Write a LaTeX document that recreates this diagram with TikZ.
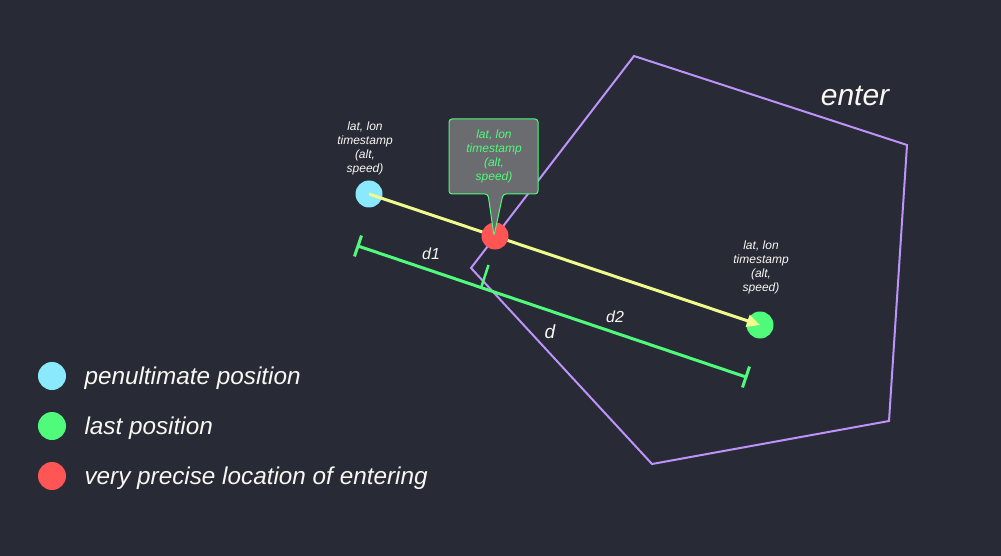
\documentclass[tikz,border=0pt]{standalone}
\usepackage{fontspec}
\setmainfont{Liberation Sans}
\usetikzlibrary{arrows.meta,calc}
\definecolor{bg}{HTML}{282A36}
\definecolor{dblue}{HTML}{8BE9FD}
\definecolor{dgreen}{HTML}{50FA7B}
\definecolor{dred}{HTML}{FF5555}
\definecolor{dyellow}{HTML}{F1FA8C}
\definecolor{dpurple}{HTML}{BD93F9}
\definecolor{dwhite}{HTML}{F8F8F2}
\definecolor{dgray}{HTML}{6A6C6F}
\tikzset{
  dot/.style={circle,inner sep=0pt,minimum size=27pt,draw=none},
  info/.style={align=center,text=dwhite,font=\fontsize{12}{14}\selectfont\itshape},
  dimlabel/.style={text=dwhite,font=\fontsize{16}{18}\selectfont\itshape},
  legendtext/.style={anchor=west,text=dwhite,font=\fontsize{24.3}{27}\selectfont\itshape},
  dimline/.style={draw=dgreen,line width=3pt},
  track/.style={draw=dyellow,line width=3pt,-{Triangle[length=13pt,width=12pt]}},
  zone/.style={draw=dpurple,line width=2pt,line join=miter},
  callout/.style={draw=dgreen,fill=dgray,line width=1pt,rounded corners=3pt}
}
\begin{document}
\begin{tikzpicture}[x=1pt,y=-1pt]
\useasboundingbox (0,0) rectangle (1001,556);
\fill[bg] (0,0) rectangle (1001,556);
% zone polygon
\draw[zone] (634,56) -- (907,145) -- (889,421) -- (652,464) -- (471,268) -- cycle;
\node[text=dwhite,font=\fontsize{30}{33}\selectfont\itshape] (enter) at (855,96) {enter};
% dimension line
\coordinate (dA) at (358,246);
\coordinate (dB) at (746,377);
\coordinate (dM) at (481,288);
\coordinate (dMt) at (488.5,265);
\draw[dimline] (dA) -- (dB);
\draw[dimline] ($(dA)!11pt!90:(dB)$) -- ($(dA)!11pt!-90:(dB)$);
\draw[dimline] ($(dB)!11pt!90:(dA)$) -- ($(dB)!11pt!-90:(dA)$);
\draw[dimline,line width=2.5pt] (dM) -- (dMt);
\node[dimlabel] (d1) at (431,254) {d1};
\node[dimlabel] (d2) at (615,317) {d2};
\node[dimlabel,font=\fontsize{19}{21}\selectfont\itshape] (d) at (550,332) {d};
% positions
\node[dot,fill=dblue] (pen) at (369,194) {};
\node[dot,fill=dgreen] (last) at (760,325) {};
\draw[track] (pen.center) -- (last.center);
\node[dot,fill=dred] (ent) at (495,236) {};
% labels
\node[info] (penlab) at (365,148) {lat, lon\\timestamp\\(alt,\\speed)};
\node[info] (lastlab) at (761,267) {lat, lon\\timestamp\\(alt,\\speed)};
% callout
\draw[callout] (494,236) -- (488,194) -- (449,194) -- (449,119) -- (538,119) -- (538,194) -- (503,194) -- cycle;
\node[info,text=dgreen] (entlab) at (494,156) {lat, lon\\timestamp\\(alt,\\speed)};
% legend
\node[dot,fill=dblue,minimum size=28pt] (lg1) at (52,376) {};
\node[dot,fill=dgreen,minimum size=28pt] (lg2) at (52,426) {};
\node[dot,fill=dred,minimum size=28pt] (lg3) at (52,476) {};
\node[legendtext] (lt1) at (81,378) {penultimate position};
\node[legendtext] (lt2) at (81,428) {last position};
\node[legendtext] (lt3) at (81,478) {very precise location of entering};
\end{tikzpicture}
\end{document}
